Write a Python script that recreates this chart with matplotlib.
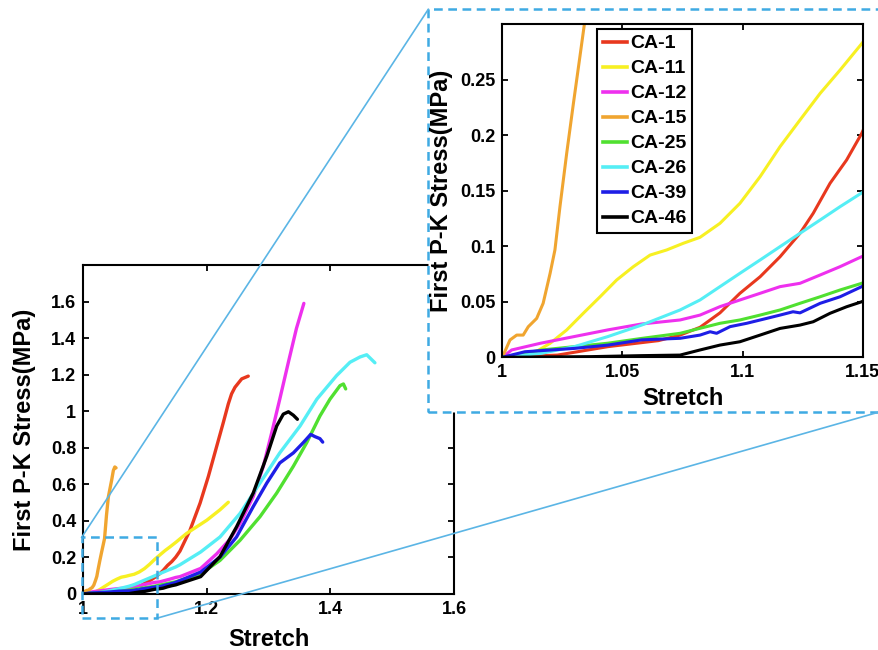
import matplotlib
matplotlib.use("Agg")
import matplotlib.pyplot as plt
from matplotlib.patches import Rectangle
from matplotlib.lines import Line2D

plt.rcParams['font.family'] = ['Liberation Sans', 'DejaVu Sans']
plt.rcParams['font.weight'] = 'bold'

# ---------------- data ----------------
labels = ["CA-1", "CA-11", "CA-12", "CA-15", "CA-25", "CA-26", "CA-39", "CA-46"]
colors = ["#E8381E", "#F7F022", "#EE30EE", "#F0A530", "#50E030", "#55EEF5", "#1E1EE6", "#000000"]

ca1_x = [1.0, 1.023, 1.044, 1.065, 1.074, 1.0823, 1.0906, 1.0989, 1.1073, 1.1156, 1.1239, 1.1294,
         1.1364, 1.1433, 1.1496, 1.1565, 1.1727, 1.189, 1.2024, 1.216, 1.2266, 1.2347, 1.24, 1.2455,
         1.2564, 1.267]
ca1_y = [0, 0.002, 0.0096, 0.015, 0.020, 0.027, 0.040, 0.0576, 0.0725, 0.0905, 0.1116, 0.1296,
         0.1566, 0.1776, 0.2016, 0.235, 0.349, 0.497, 0.643, 0.809, 0.938, 1.040, 1.095, 1.131,
         1.177, 1.192]

ca11_x = [1.0, 1.0129, 1.0199, 1.0268, 1.0337, 1.0407, 1.0476, 1.0545, 1.0615, 1.0684, 1.0753, 1.0823,
          1.0906, 1.0989, 1.1073, 1.1156, 1.1239, 1.1323, 1.1406, 1.1497, 1.167, 1.2, 1.221, 1.2347]
ca11_y = [0, 0.0036, 0.0126, 0.0246, 0.0396, 0.0545, 0.0696, 0.0815, 0.092, 0.0966, 0.1026, 0.108,
          0.1206, 0.1386, 0.1626, 0.1896, 0.2136, 0.2376, 0.2586, 0.2826, 0.331, 0.404, 0.46, 0.502]

ca12_x = [1.0, 1.0039, 1.016, 1.030, 1.044, 1.058, 1.074, 1.0823, 1.0906, 1.0989, 1.1073, 1.1156,
          1.1239, 1.1323, 1.1406, 1.1496, 1.1565, 1.19, 1.216, 1.2375, 1.2537, 1.275, 1.2914, 1.305,
          1.318, 1.332, 1.345, 1.357]
ca12_y = [0, 0.0066, 0.0127, 0.0187, 0.0247, 0.030, 0.0336, 0.038, 0.0456, 0.0516, 0.0576, 0.0636,
          0.0666, 0.0741, 0.0816, 0.0906, 0.095, 0.14, 0.22, 0.30, 0.386, 0.533, 0.699, 0.883,
          1.066, 1.269, 1.453, 1.59]

ca15_x = [1.0, 1.0032, 1.006, 1.0087, 1.0108, 1.0143, 1.017, 1.0199, 1.0219, 1.024, 1.0268, 1.0296,
          1.0323, 1.0344, 1.0375, 1.0405, 1.046, 1.0486, 1.051, 1.053]
ca15_y = [0, 0.0156, 0.020, 0.020, 0.0275, 0.035, 0.0486, 0.0756, 0.0966, 0.1356, 0.1836, 0.2286,
          0.2706, 0.3036, 0.43, 0.53, 0.625, 0.675, 0.695, 0.69]

ca25_x = [1.0, 1.0164, 1.030, 1.044, 1.058, 1.074, 1.0823, 1.0906, 1.0989, 1.1073, 1.1156, 1.1239,
          1.1323, 1.1406, 1.1496, 1.19, 1.2213, 1.2537, 1.286, 1.313, 1.34, 1.3616, 1.383, 1.3993,
          1.4155, 1.421, 1.4247]
ca25_y = [0, 0.0066, 0.0096, 0.0127, 0.017, 0.0216, 0.0261, 0.0306, 0.0336, 0.038, 0.0426, 0.0486,
          0.0545, 0.0606, 0.0666, 0.11, 0.184, 0.294, 0.423, 0.552, 0.699, 0.828, 0.974, 1.066,
          1.14, 1.149, 1.122]

ca26_x = [1.0, 1.0164, 1.030, 1.044, 1.058, 1.074, 1.0823, 1.0906, 1.0989, 1.1073, 1.1156, 1.1239,
          1.1323, 1.1406, 1.1496, 1.1565, 1.19, 1.2213, 1.2537, 1.286, 1.318, 1.3508, 1.378, 1.41,
          1.4317, 1.448, 1.4587, 1.472]
ca26_y = [0, 0.0036, 0.0096, 0.0187, 0.029, 0.0426, 0.0516, 0.0636, 0.0756, 0.0876, 0.0996, 0.1116,
          0.1236, 0.1356, 0.148, 0.16, 0.23, 0.312, 0.441, 0.607, 0.772, 0.919, 1.066, 1.195,
          1.268, 1.297, 1.309, 1.265]

ca39_x = [1.0, 1.0094, 1.030, 1.044, 1.058, 1.074, 1.0823, 1.0865, 1.0892, 1.0948, 1.1017, 1.11,
          1.1156, 1.121, 1.1239, 1.1323, 1.1406, 1.1496, 1.19, 1.2213, 1.248, 1.275, 1.297, 1.318,
          1.34, 1.356, 1.368, 1.375, 1.383, 1.3875]
ca39_y = [0, 0.005, 0.008, 0.011, 0.0157, 0.0171, 0.020, 0.023, 0.0216, 0.0276, 0.0306, 0.035,
          0.038, 0.041, 0.040, 0.0486, 0.0545, 0.0636, 0.12, 0.202, 0.312, 0.478, 0.607, 0.717,
          0.772, 0.828, 0.873, 0.861, 0.85, 0.831]

ca46_x = [1.0, 1.037, 1.058, 1.074, 1.0823, 1.0906, 1.0989, 1.1073, 1.1156, 1.1239, 1.1294, 1.1364,
          1.1433, 1.1496, 1.19, 1.2213, 1.248, 1.275, 1.297, 1.313, 1.3237, 1.332, 1.34, 1.3465]
ca46_y = [0, 0.0006, 0.0015, 0.002, 0.0066, 0.011, 0.014, 0.020, 0.026, 0.029, 0.032, 0.0396,
          0.0455, 0.050, 0.095, 0.205, 0.367, 0.552, 0.754, 0.919, 0.984, 0.997, 0.978, 0.956]

series_x = [ca1_x, ca11_x, ca12_x, ca15_x, ca25_x, ca26_x, ca39_x, ca46_x]
series_y = [ca1_y, ca11_y, ca12_y, ca15_y, ca25_y, ca26_y, ca39_y, ca46_y]

main_xticks = [1, 1.2, 1.4, 1.6]
main_xticklabels = ["1", "1.2", "1.4", "1.6"]
main_yticks = [0, 0.2, 0.4, 0.6, 0.8, 1.0, 1.2, 1.4, 1.6]
main_yticklabels = ["0", "0.2", "0.4", "0.6", "0.8", "1", "1.2", "1.4", "1.6"]
inset_xticks = [1, 1.05, 1.1, 1.15]
inset_xticklabels = ["1", "1.05", "1.1", "1.15"]
inset_yticks = [0, 0.05, 0.1, 0.15, 0.2, 0.25]
inset_yticklabels = ["0", "0.05", "0.1", "0.15", "0.2", "0.25"]

xlabel = "Stretch"
ylabel = "First P-K Stress(MPa)"

# ---------------- figure ----------------
W, H = 879, 650
fig = plt.figure(figsize=(W / 100, H / 100), dpi=100)


def fx(px):
    return px / W


def fy(py):
    return 1 - py / H


def style_axes(ax, xt, xtl, yt, ytl, xpad, ypad):
    ax.set_xticks(xt)
    ax.set_xticklabels(xtl)
    ax.set_yticks(yt)
    ax.set_yticklabels(ytl)
    ax.tick_params(direction='in', top=True, right=True, length=4, width=1.3,
                   labelsize=13, pad=5)
    for lab in ax.get_xticklabels() + ax.get_yticklabels():
        lab.set_fontweight('bold')
    for sp in ax.spines.values():
        sp.set_linewidth(1.5)
        sp.set_color('black')
    ax.set_xlabel(xlabel, fontsize=17, fontweight='bold', labelpad=xpad)
    ax.set_ylabel(ylabel, fontsize=17, fontweight='bold', labelpad=ypad)


# main axes
ax = fig.add_axes([fx(83.3), fy(594), fx(454) - fx(83.3), fy(265) - fy(594)])
for xs, ys, c, lab in zip(series_x, series_y, colors, labels):
    ax.plot(xs, ys, color=c, lw=2.4, label=lab, solid_capstyle='round', solid_joinstyle='round')
ax.set_xlim(1, 1.6)
ax.set_ylim(0, 1.8)
style_axes(ax, main_xticks, main_xticklabels, main_yticks, main_yticklabels, 7, 11)

blue_dash = "#3FAAE3"
blue_line = "#5BB5E5"
dash = (0, (3.5, 2.2))

# small dashed rectangle in main plot
small = Rectangle((fx(81.7), fy(618.3)), fx(156.7) - fx(81.7), fy(537.3) - fy(618.3),
                  transform=fig.transFigure, fill=False, edgecolor=blue_dash, lw=1.8,
                  linestyle=dash, zorder=3)
fig.add_artist(small)

# big dashed rectangle (inset frame), white filled
big = Rectangle((fx(428.3), fy(412.0)), fx(882) - fx(428.3), fy(9.3) - fy(412.0),
                transform=fig.transFigure, facecolor='white', edgecolor=blue_dash, lw=1.8,
                linestyle=dash, zorder=1)
fig.add_artist(big)

# connecting lines
l1 = Line2D([fx(81.7), fx(428.3)], [fy(537.3), fy(9.3)], transform=fig.transFigure,
            color=blue_line, lw=1.2, zorder=2)
l2 = Line2D([fx(156.7), fx(882)], [fy(618.3), fy(411.2)], transform=fig.transFigure,
            color=blue_line, lw=1.2, zorder=2)
fig.add_artist(l1)
fig.add_artist(l2)

# inset axes
axi = fig.add_axes([fx(502.3), fy(357.3), fx(862.7) - fx(502.3), fy(24) - fy(357.3)])
axi.set_zorder(4)
for xs, ys, c, lab in zip(series_x, series_y, colors, labels):
    axi.plot(xs, ys, color=c, lw=2.2, label=lab, solid_joinstyle='round')
axi.set_xlim(1, 1.15)
axi.set_ylim(0, 0.3)
style_axes(axi, inset_xticks, inset_xticklabels, inset_yticks, inset_yticklabels, 4, 5)

leg = axi.legend(loc='upper left', bbox_to_anchor=(0.263, 0.985),
                 prop={'weight': 'bold', 'size': 14}, frameon=True, fancybox=False,
                 edgecolor='black', framealpha=1, borderpad=0.3, labelspacing=0.38,
                 handlelength=1.25, handletextpad=0.15, borderaxespad=0)
leg.get_frame().set_linewidth(1.5)
for h in leg.legend_handles:
    h.set_linewidth(2.6)

fig.savefig("out.png", dpi=100)
